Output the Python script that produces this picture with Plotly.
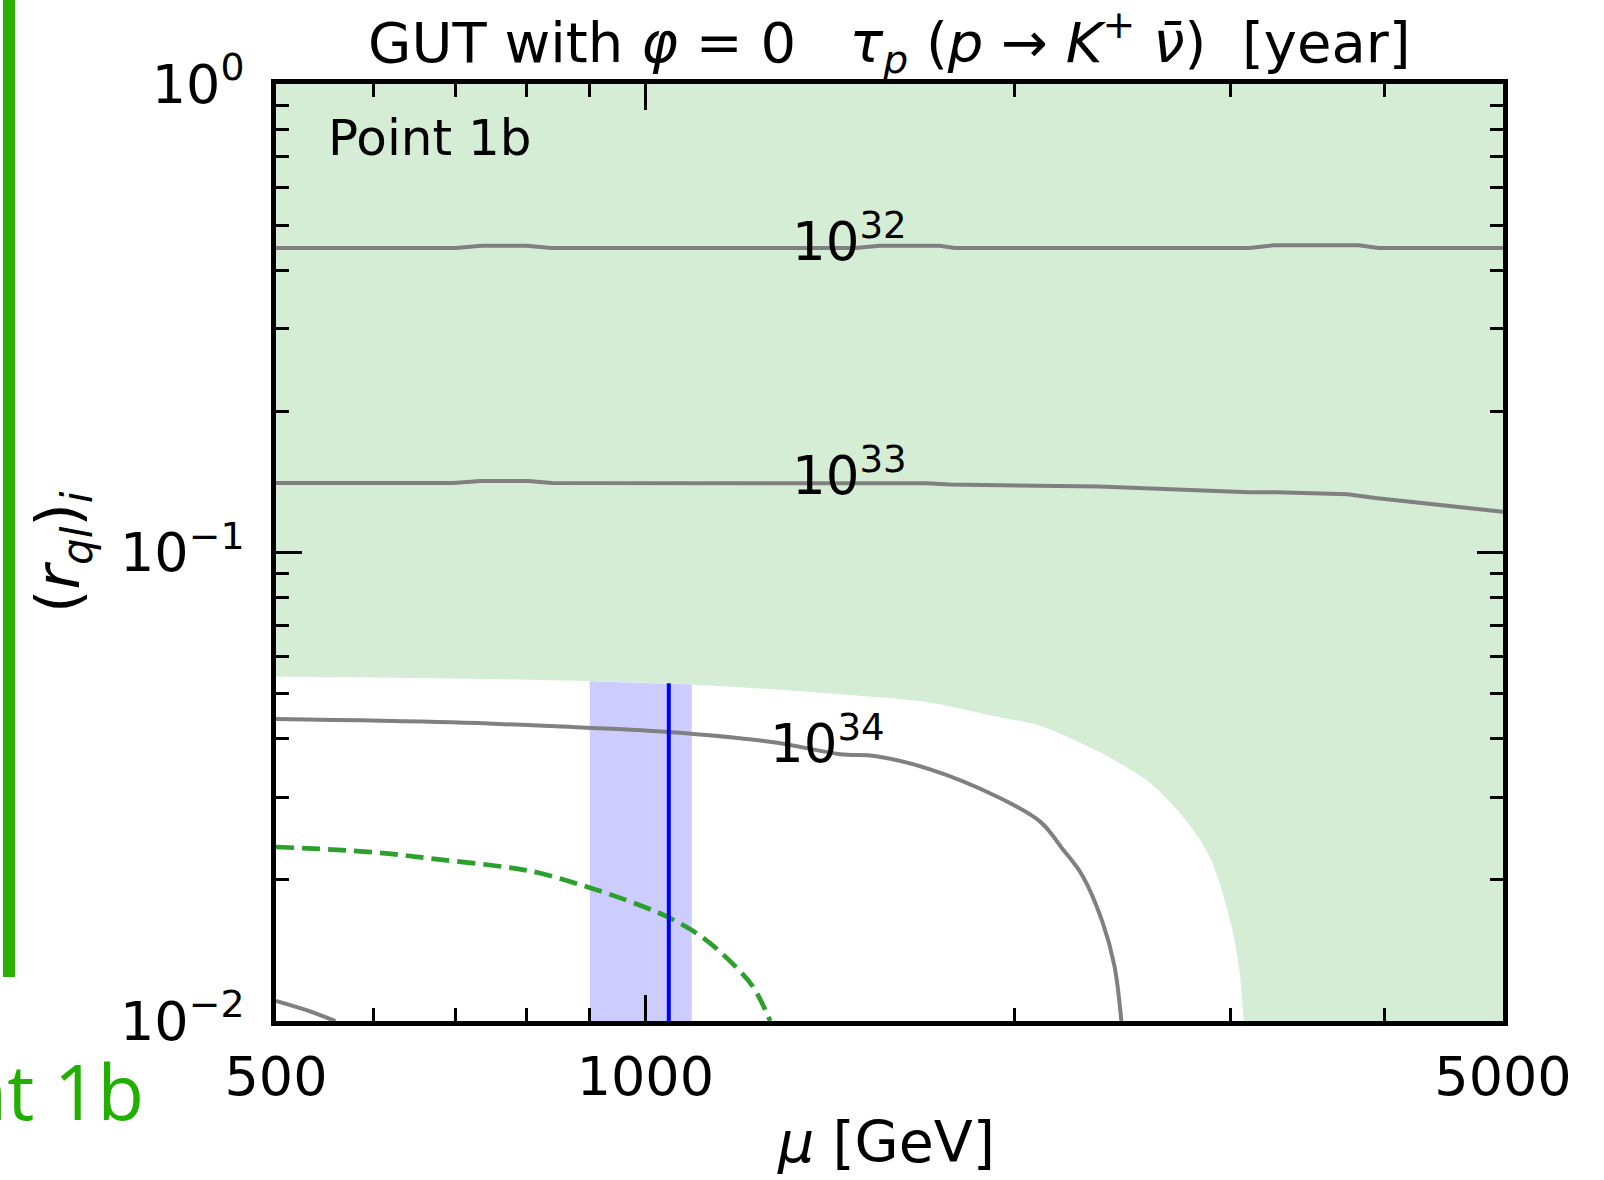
import numpy as np
import plotly.graph_objects as go

# ---- data ---------------------------------------------------------------
# lifetime contours tau_p(p -> K+ nu) in (mu, r_ql) plane
mu_32 = [500, 701, 735, 800, 838, 1483, 1553, 1737, 1787, 3106, 3250, 3814, 3958, 5000]
r_32 = [0.4467, 0.4467, 0.4515, 0.4515, 0.4467, 0.4467, 0.4515, 0.4515, 0.4467,
        0.4467, 0.4525, 0.4525, 0.4467, 0.4467]

mu_33 = [500, 697, 734, 803, 839, 1527, 1693, 1771, 2344, 3103, 3270, 3734, 3936, 5000]
r_33 = [0.1407, 0.1407, 0.1421, 0.1421, 0.1407, 0.1405, 0.1405, 0.1396, 0.1384,
        0.1344, 0.1344, 0.1331, 0.1307, 0.1221]

mu_34 = [500, 695, 838, 1045, 1272, 1441, 1542, 1704, 1930, 2099, 2187, 2271, 2357, 2411, 2443]
r_34 = [0.0441, 0.0434, 0.0426, 0.0414, 0.03936, 0.03712, 0.03675, 0.03449, 0.03022,
        0.02661, 0.02332, 0.02043, 0.01632, 0.01315, 0.0100]

mu_35 = [500, 528, 559]
r_35 = [0.01104, 0.01057, 0.0100]

# dashed green curve
mu_dash = [500, 598, 678, 768, 817, 897, 986, 1049, 1116, 1188, 1226, 1264]
r_dash = [0.02352, 0.02294, 0.02213, 0.02132, 0.02074, 0.01933, 0.01773, 0.01655,
          0.01501, 0.01296, 0.01175, 0.0100]

# boundary of the shaded (excluded) region
mu_bound = [500, 838, 1090, 1503, 1704, 1944, 2099, 2344, 2479, 2573, 2738, 2880, 2989, 3045, 3074]
r_bound = [0.05435, 0.0534, 0.0523, 0.04937, 0.04786, 0.04448, 0.04263, 0.0375, 0.03449,
           0.03236, 0.02741, 0.02254, 0.0168, 0.01315, 0.0100]

# mu band and central value
band_mu = [901, 1091]
band_top = [0.0531, 0.0523]
mu_central = 1045
r_central_top = 0.0526

# contour labels
label_text = ["10<sup>32</sup>", "10<sup>33</sup>", "10<sup>34</sup>"]
label_mu = [1468, 1468, 1407]
label_r = [0.469, 0.1483, 0.0397]

x_tickvals = [500, 1000, 5000]
x_ticktext = ["500", "1000", "5000"]
x_minor = [600, 700, 800, 900, 2000, 3000, 4000]
y_tickvals = [0.01, 0.1, 1]
y_ticktext = ["10<sup>\u22122</sup>", "10<sup>\u22121</sup>", "10<sup>0</sup>"]
y_minor = [0.02, 0.03, 0.04, 0.05, 0.06, 0.07, 0.08, 0.09,
           0.2, 0.3, 0.4, 0.5, 0.6, 0.7, 0.8, 0.9]

FONT = "DejaVu Sans"
W, H = 1604, 1180
ML, MR, MT, MB = 276, 101, 84, 159
PW, PH = W - ML - MR, H - MT - MB


def px2paper(px, py):
    return (px - ML) / PW, (H - MB - py) / PH


fig = go.Figure()

# shaded excluded region: smooth boundary, corners kept sharp by repeated vertices
fx = mu_bound + [mu_bound[-1], 5000, 5000, 5000, 5000, 500, 500]
fy = r_bound + [r_bound[-1], 0.01, 0.01, 1.0, 1.0, 1.0, 1.0]
fig.add_trace(go.Scatter(x=fx, y=fy, mode="lines", fill="toself",
                         fillcolor="#d5ecd5", line=dict(width=0, shape="spline", smoothing=1),
                         hoverinfo="skip", showlegend=False))

# mu band
fig.add_trace(go.Scatter(x=[band_mu[0], band_mu[0], band_mu[1], band_mu[1]],
                         y=[0.01, band_top[0], band_top[1], 0.01],
                         mode="lines", fill="toself", fillcolor="#ccccff",
                         line=dict(width=0), hoverinfo="skip", showlegend=False))

# contour lines
for mx, ry, shp in [(mu_32, r_32, "linear"), (mu_33, r_33, "linear"),
                    (mu_34, r_34, "spline"), (mu_35, r_35, "spline")]:
    fig.add_trace(go.Scatter(x=mx, y=ry, mode="lines",
                             line=dict(color="#808080", width=4, shape=shp),
                             showlegend=False))

fig.add_trace(go.Scatter(x=mu_dash, y=r_dash, mode="lines",
                         line=dict(color="#2ca02c", width=4.7, dash="18px,8px", shape="spline"),
                         showlegend=False))

fig.add_trace(go.Scatter(x=[mu_central, mu_central], y=[0.01, r_central_top], mode="lines",
                         line=dict(color="#0000ff", width=4), showlegend=False))

for t, m, r in zip(label_text, label_mu, label_r):
    fig.add_annotation(x=np.log10(m), y=np.log10(r), xref="x", yref="y", text=t,
                       showarrow=False, xanchor="center", yanchor="middle",
                       font=dict(family=FONT, size=53, color="black"))

axis_common = dict(type="log", showline=True, linecolor="black", linewidth=4.5,
                   mirror="allticks", ticks="inside", ticklen=26, tickwidth=3,
                   tickcolor="black", showgrid=False, zeroline=False,
                   tickfont=dict(family=FONT, size=54, color="black"))

fig.update_xaxes(range=[np.log10(500), np.log10(5000)], tickmode="array",
                 tickvals=x_tickvals, ticktext=x_ticktext, ticklabelstandoff=4,
                 minor=dict(tickmode="array", tickvals=x_minor, ticks="inside",
                            ticklen=13, tickwidth=3, tickcolor="black", showgrid=False),
                 **axis_common)
fig.update_yaxes(range=[-2, 0], tickmode="array", tickvals=y_tickvals,
                 ticktext=y_ticktext, ticklabelstandoff=16,
                 minor=dict(tickmode="array", tickvals=y_minor, ticks="inside",
                            ticklen=13, tickwidth=3, tickcolor="black", showgrid=False),
                 **axis_common)

# title and axis titles
tx, ty = px2paper(889, 84)
fig.add_annotation(x=tx, y=ty, xref="paper", yref="paper", showarrow=False,
                   xanchor="center", yanchor="bottom",
                   text="GUT with <i>\u03c6</i> = 0\u00a0\u00a0\u00a0<i>\u03c4<sub>p</sub></i> "
                        "(<i>p</i> \u2192 <i>K</i><sup>+</sup> <i>\u03bd\u0304</i>)\u00a0\u00a0[year]",
                   font=dict(family=FONT, size=56, color="black"))

xx, xy = px2paper(886, 1142)
fig.add_annotation(x=xx, y=xy, xref="paper", yref="paper", showarrow=False,
                   xanchor="center", yanchor="middle", text="<i>\u03bc</i> [GeV]",
                   font=dict(family=FONT, size=57, color="black"))

yx, yy = px2paper(62, 552)
fig.add_annotation(x=yx, y=yy, xref="paper", yref="paper", showarrow=False,
                   xanchor="center", yanchor="middle", textangle=-90,
                   text="(<i>r<sub>ql</sub></i>)<sub><i>i</i></sub>",
                   font=dict(family=FONT, size=60, color="black"))

px_, py_ = px2paper(326, 138)
fig.add_annotation(x=px_, y=py_, xref="paper", yref="paper", showarrow=False,
                   xanchor="left", yanchor="middle", text="Point 1b",
                   font=dict(family=FONT, size=50, color="black"))

# neighbouring panel edge on the left
sx0, sy0 = px2paper(9, 0)
sx1, sy1 = px2paper(9, 977)
fig.add_shape(type="line", xref="paper", yref="paper", x0=sx0, y0=sy0, x1=sx1, y1=sy1,
              line=dict(color="#2ab000", width=12))
gx, gy = px2paper(146, 1090)
fig.add_annotation(x=gx, y=gy, xref="paper", yref="paper", showarrow=False,
                   xanchor="right", yanchor="middle", text="Point 1b",
                   font=dict(family="Open Sans", size=76, color="#22b000"))

fig.update_layout(width=W, height=H, margin=dict(l=ML, r=MR, t=MT, b=MB),
                  paper_bgcolor="white", plot_bgcolor="white", showlegend=False)

fig.write_html("out.html")
